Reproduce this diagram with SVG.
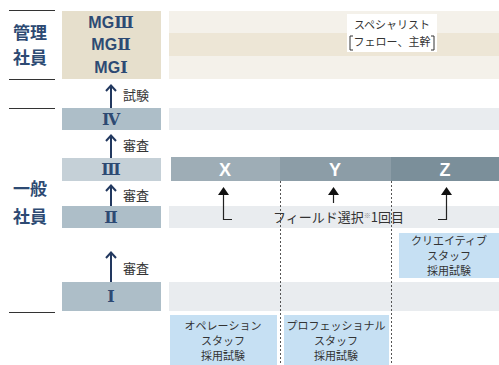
<svg xmlns="http://www.w3.org/2000/svg" width="499" height="365" viewBox="0 0 499 365">
<style>
.cat{font-family:"Noto Sans CJK JP","Noto Sans",sans-serif;font-weight:bold;font-size:17px;fill:#2d4a73;text-anchor:middle}
.mg{font-family:"Liberation Sans",Arial,"Noto Sans CJK JP",sans-serif;font-weight:bold;font-size:16px;fill:#2d4a73;text-anchor:middle}
.rnf{font-family:"DejaVu Serif","Liberation Serif",serif;font-weight:bold}
.rn{font-family:"DejaVu Serif","Liberation Serif","Noto Sans CJK JP",serif;font-weight:bold;font-size:16px;fill:#2d4a73;text-anchor:middle}
.lbl{font-family:"Noto Sans CJK JP","Noto Sans",sans-serif;font-size:13px;fill:#333;}
.sm{font-family:"Noto Sans CJK JP","Noto Sans",sans-serif;font-size:11px;fill:#333;text-anchor:middle}
.bx{font-family:"Noto Sans CJK JP","Noto Sans",sans-serif;font-size:11px;fill:#333;text-anchor:middle}
.xyz{font-family:"Liberation Sans",Arial,sans-serif;font-weight:bold;font-size:18px;fill:#fff;text-anchor:middle}
.sep{stroke:#333;stroke-width:1}
.up{stroke:#22385f;stroke-width:2;fill:none}
.blk{stroke:#222;stroke-width:1.2;fill:none}
.dot{stroke:#555;stroke-width:1;stroke-dasharray:2,2;fill:none}
.blue{fill:#c6e0f3}
.gband{fill:#e9ecef}
</style>
<g id="left-labels">
<line class="sep" x1="9" y1="10.5" x2="55" y2="10.5"/>
<line class="sep" x1="9" y1="79.5" x2="55" y2="79.5"/>
<line class="sep" x1="9" y1="108.5" x2="55" y2="108.5"/>
<line class="sep" x1="9" y1="312.5" x2="55" y2="312.5"/>
<text class="cat" x="30" y="39">管理</text>
<text class="cat" x="30" y="64">社員</text>
<text class="cat" x="30" y="195">一般</text>
<text class="cat" x="30" y="223">社員</text>
</g>
<g id="mg-band">
<rect x="169" y="11" width="330" height="22" fill="#f4f1ea"/>
<rect x="169" y="33" width="330" height="23" fill="#ede6d6"/>
<rect x="169" y="56" width="330" height="23" fill="#f4f1ea"/>
<rect x="347" y="14" width="90" height="38" fill="#fff"/>
<text class="sm" x="392" y="29">スペシャリスト</text>
<text class="sm" x="392" y="46">フェロー、主幹</text>
<path d="M353 36 H350 V50 H353 M431 36 H434 V50 H431" stroke="#333" stroke-width="1" fill="none"/>
</g>
<g id="mg">
<rect x="62" y="11" width="99" height="68" fill="#e6dfcc"/>
<text class="mg" x="111" y="28">MG<tspan class="rnf">Ⅲ</tspan></text>
<text class="mg" x="111" y="50">MG<tspan class="rnf">Ⅱ</tspan></text>
<text class="mg" x="111" y="73">MG<tspan class="rnf">Ⅰ</tspan></text>
</g>
<g id="bands">
<rect class="gband" x="169" y="108" width="330" height="22"/>
<rect class="gband" x="169" y="206" width="330" height="22"/>
<rect class="gband" x="169" y="282" width="330" height="29"/>
</g>
<g id="g4">
<rect x="62" y="108" width="99" height="22" fill="#adbec8"/>
<text class="rn" x="111" y="125">Ⅳ</text>
</g>
<g id="g3">
<rect x="62" y="158" width="99" height="23" fill="#c5d0d7"/>
<text class="rn" x="111" y="175">Ⅲ</text>
</g>
<g id="g2">
<rect x="62" y="206" width="99" height="22" fill="#adbec8"/>
<text class="rn" x="111" y="223">Ⅱ</text>
</g>
<g id="g1">
<rect x="62" y="282" width="99" height="29" fill="#adbec8"/>
<text class="rn" x="111" y="302">Ⅰ</text>
</g>
<g id="xyz">
<rect x="171" y="157" width="109" height="24" fill="#9eadb6"/>
<rect x="280" y="157" width="111" height="24" fill="#8c9da7"/>
<rect x="391" y="157" width="108" height="24" fill="#7b8f9a"/>
<text class="xyz" x="225" y="176">X</text>
<text class="xyz" x="335" y="176">Y</text>
<text class="xyz" x="445" y="176">Z</text>
</g>
<g id="recruit">
<rect class="blue" x="399" y="233" width="100" height="45"/>
<text class="bx" x="449" y="245">クリエイティブ</text>
<text class="bx" x="449" y="260">スタッフ</text>
<text class="bx" x="449" y="275">採用試験</text>
<rect class="blue" x="170" y="315" width="107" height="50"/>
<text class="bx" x="223" y="330">オペレーション</text>
<text class="bx" x="223" y="345">スタッフ</text>
<text class="bx" x="223" y="360">採用試験</text>
<rect class="blue" x="284" y="315" width="105" height="50"/>
<text class="bx" x="336" y="330">プロフェッショナル</text>
<text class="bx" x="336" y="345">スタッフ</text>
<text class="bx" x="336" y="360">採用試験</text>
</g>
<g id="connectors">
<line class="dot" x1="280.5" y1="181" x2="280.5" y2="365"/>
<line class="dot" x1="391.5" y1="181" x2="391.5" y2="365"/>
<path class="up" d="M111 108 V86 M106 91 L111 85.5 L116 91"/>
<text class="lbl" x="123" y="100">試験</text>
<path class="up" d="M111 158 V136 M106 141 L111 135.5 L116 141"/>
<text class="lbl" x="123" y="150">審査</text>
<path class="up" d="M111 206 V186 M106 191 L111 185.5 L116 191"/>
<text class="lbl" x="123" y="200">審査</text>
<path class="up" d="M111 282 V253 M106 258 L111 252.5 L116 258"/>
<text class="lbl" x="123" y="273">審査</text>
<path class="blk" d="M232 219.5 H223.5 V194"/>
<polygon points="223.5,187 218,195 229,195" fill="#111"/>
<path class="blk" d="M333.5 203 V194"/>
<polygon points="333.5,187 328,195 339,195" fill="#111"/>
<path class="blk" d="M438 219.5 H446.5 V194"/>
<polygon points="446.5,187 441,195 452,195" fill="#111"/>
<text class="lbl" x="273" y="222">フィールド選択<tspan font-size="7" fill="#888" dy="-4">※</tspan><tspan dy="4">1回目</tspan></text>
</g>
</svg>
